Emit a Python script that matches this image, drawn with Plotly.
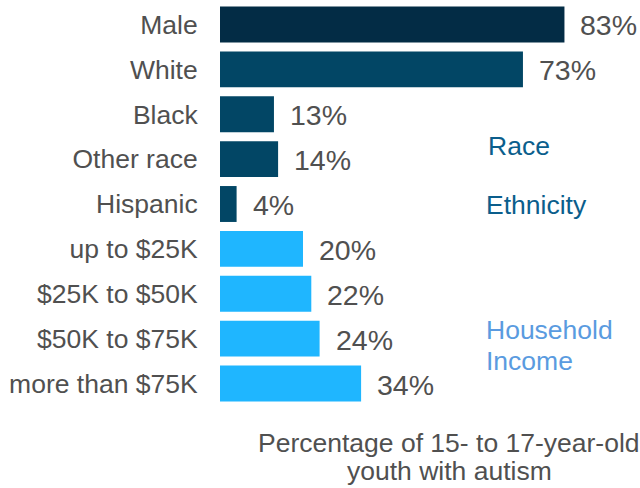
import plotly.graph_objects as go

categories = ["Male", "White", "Black", "Other race", "Hispanic",
              "up to $25K", "$25K to $50K", "$50K to $75K", "more than $75K"]
values = [83, 73, 13, 14, 4, 20, 22, 24, 34]
bar_colors = ["#032c45", "#024665", "#024665", "#024665", "#024665",
              "#1fb6ff", "#1fb6ff", "#1fb6ff", "#1fb6ff"]

FONT = "Liberation Sans, Arial, Helvetica, sans-serif"
GREY = "#505050"

# Plot-area geometry (pixels)
L, R, T, B = 220, 5, 1.5, 81.5
PW, PH = 640 - L - R, 488 - T - B


def px_x(x):
    return (x - L) / PW


def px_y(y):
    return 1 - (y - T) / PH


fig = go.Figure(go.Bar(
    x=values,
    y=categories,
    orientation="h",
    marker=dict(color=bar_colors, line=dict(width=0)),
    width=0.8,
    hoverinfo="skip",
))

# Percentage labels to the right of each bar
for cat, v in zip(categories, values):
    fig.add_annotation(x=v, y=cat, text=f"{v}%", xanchor="left", yanchor="middle",
                       xshift=14, yshift=-1, showarrow=False,
                       font=dict(family=FONT, size=28.5, color=GREY))

# Group labels
group_labels = [
    ("Race", 486, 146, "#0b5e8c"),
    ("Ethnicity", 484, 205, "#0b5e8c"),
    ("Household", 484, 330, "#5a9be0"),
    ("Income", 484, 361, "#5a9be0"),
]
for text, x, y, color in group_labels:
    fig.add_annotation(text=text, xref="paper", yref="paper",
                       x=px_x(x), y=px_y(y),
                       xanchor="left", yanchor="middle",
                       showarrow=False,
                       font=dict(family=FONT, size=26.5, color=color))

# Axis caption below the plot
for text, y in [("Percentage of 15- to 17-year-old", 444), ("youth with autism", 472)]:
    fig.add_annotation(text=text, xref="paper", yref="paper",
                       x=px_x(449), y=px_y(y),
                       xanchor="center", yanchor="middle",
                       showarrow=False,
                       font=dict(family=FONT, size=26.5, color=GREY))

fig.update_layout(
    width=640, height=488,
    margin=dict(l=L, r=R, t=T, b=B),
    paper_bgcolor="white", plot_bgcolor="white",
    showlegend=False,
    bargap=0.2,
    xaxis=dict(range=[0, 100], visible=False, fixedrange=True),
    yaxis=dict(autorange=False, range=[8.5, -0.5], type="category",
               categoryorder="array", categoryarray=categories,
               showgrid=False, zeroline=False, showline=False,
               ticks="outside", ticklen=16, tickcolor="rgba(0,0,0,0)",
               tickfont=dict(family=FONT, size=26.5, color=GREY)),
)

fig.write_html("out.html")
